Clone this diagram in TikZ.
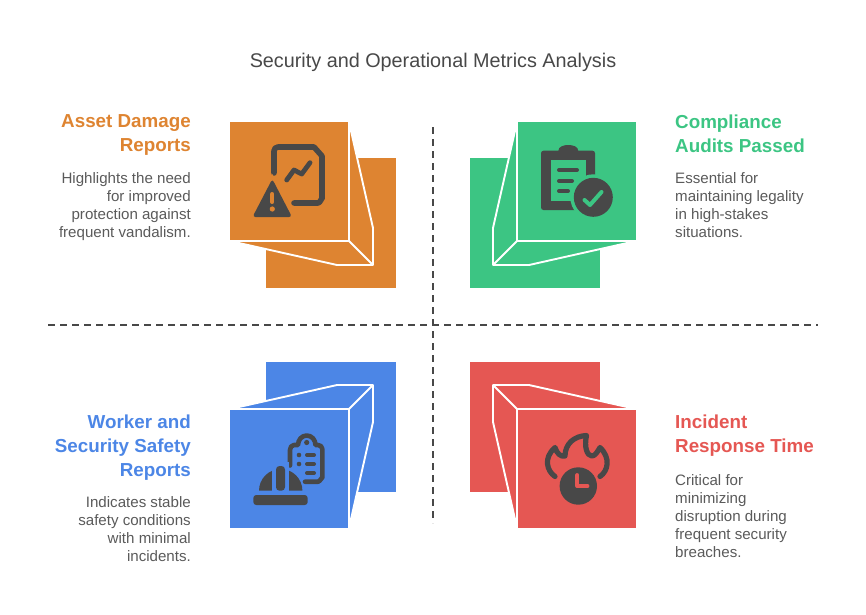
\documentclass[tikz,border=0pt]{standalone}
\usepackage{fontspec}
\setmainfont{Liberation Sans}
\definecolor{assetc}{HTML}{DE8431}
\definecolor{auditc}{HTML}{3CC583}
\definecolor{workerc}{HTML}{4C86E6}
\definecolor{incidentc}{HTML}{E55753}
\definecolor{iconc}{HTML}{484848}
\definecolor{bodyc}{HTML}{5A5A5A}
\tikzset{
    edgeline/.style={draw=white, line width=1.9pt, line join=round},
    axisline/.style={iconc, line width=1.9pt, dash pattern=on 6.5pt off 5.5pt},
    headtext/.style={inner sep=0pt, font=\fontsize{18.8}{24}\selectfont\bfseries},
    bodytext/.style={inner sep=0pt, bodyc, font=\fontsize{15.1}{18}\selectfont},
    iconline/.style={iconc, line width=5.6pt, line cap=round, line join=round}
}
\begin{document}
\begin{tikzpicture}[x=1pt,y=-1pt]
                \useasboundingbox (0,0) rectangle (866,614);

                \node[inner sep=0pt, iconc, font=\fontsize{19.8}{24}\selectfont] (title) at (433,62.2) {Security and Operational Metrics Analysis};

                %% axes
                \coordinate (vtop) at (433,127);
                \coordinate (vbot) at (433,523);
                \coordinate (hleft) at (48,325);
                \coordinate (hright) at (818,325);
                \draw[axisline] (vtop) -- (vbot);
                \draw[axisline] (hleft) -- (hright);

                %% Asset damage
                \fill[assetc] (266,158) rectangle (396,288);
                \fill[assetc] (230,122) rectangle (348,240);
                \filldraw[fill=assetc, edgeline] (349,122) -- (373,228) -- (373,265) -- (337,265) -- (230,241) -- (349,241) -- cycle;
                \draw[edgeline] (349,241) -- (373,265);
                % document
                \draw[iconline] (274,173) -- (274,151) to[out=90,in=180] (278,147) -- (314,147) -- (322,156) -- (322,199) to[out=90,in=0] (318,203) -- (294,203);
                \draw[iconc, line width=4.8pt, line cap=round, line join=round] (286.7,180) -- (294,170) -- (301.7,174) -- (310,162.7);
                % warning
                \fill[assetc] (272.3,174) -- (247,222) -- (298,222) -- cycle;
                \fill[iconc, rounded corners=3pt] (272.3,179) -- (252.5,217) -- (292,217) -- cycle;
                \draw[assetc, line width=4pt, line cap=round] (272.3,194) -- (272.3,202);
                \fill[assetc] (272.3,209) circle (2.6);

                \node[headtext, assetc, anchor=north east, align=right] (assethead) at (191,114.3) {Asset Damage\\Reports};
                \node[bodytext, anchor=north east, align=right] (assetbody) at (191,172) {Highlights the need\\for improved\\protection against\\frequent vandalism.};

                %% Compliance audits
                \fill[auditc] (470,158) rectangle (600,288);
                \fill[auditc] (518,122) rectangle (636,240);
                \filldraw[fill=auditc, edgeline] (517,122) -- (493,228) -- (493,265) -- (529,265) -- (636,241) -- (517,241) -- cycle;
                \draw[edgeline] (517,241) -- (493,265);
                % clipboard
                \fill[iconc, rounded corners=2.5pt] (541,150.7) rectangle (595,210);
                \fill[iconc] (558.3,151) to[out=90,in=180] (568.3,145) to[out=0,in=90] (578.3,151) -- cycle;
                \fill[auditc] (550.7,160) rectangle (586,201);
                \draw[iconc, line width=4pt, line cap=round] (559,170) -- (577,170);
                \draw[iconc, line width=4pt, line cap=round] (559,181) -- (572,181);
                \draw[iconc, line width=4pt, line cap=round] (559,191) -- (568,191);
                \fill[auditc] (593.3,197.3) circle (23);
                \fill[iconc] (593.3,197.3) circle (19.5);
                \draw[auditc, line width=4pt, line cap=round, line join=round] (584.5,200) -- (590,205) -- (601.5,192);

                \node[headtext, auditc, anchor=north west, align=left] (audithead) at (675,114.3) {Compliance\\Audits Passed};
                \node[bodytext, anchor=north west, align=left] (auditbody) at (675,172) {Essential for\\maintaining legality\\in high-stakes\\situations.};

                %% Worker safety
                \fill[workerc] (266,362) rectangle (396,492);
                \fill[workerc] (230,410) rectangle (348,528);
                \filldraw[fill=workerc, edgeline] (349,528) -- (373,422) -- (373,385) -- (337,385) -- (230,409) -- (349,409) -- cycle;
                \draw[edgeline] (349,409) -- (373,385);
                % clipboard and hat
                \draw[iconc, line width=4.6pt, line cap=round, line join=round] (290,465.5) -- (290,450) to[out=90,in=180] (294,445) -- (298,445) to[out=90,in=180] (306.7,435.5) to[out=0,in=90] (315.5,445) -- (318,445) to[out=0,in=90] (322.3,449) -- (322.3,478) to[out=90,in=0] (318,481.7) -- (305,481.7);
                \fill[iconc] (306.7,442.5) circle (2.6);
                \fill[iconc] (299,455) circle (2.3);
                \fill[iconc] (299,464) circle (2.3);
                \draw[iconc, line width=4pt, line cap=round] (307,455) -- (314,455);
                \draw[iconc, line width=4pt, line cap=round] (307,464) -- (314,464);
                \draw[iconc, line width=4pt, line cap=round] (307,473) -- (314,473);
                \fill[iconc] (259,490.7) arc[start angle=180, end angle=360, radius=21.7] -- cycle;
                \fill[workerc] (271.7,462) rectangle (289.3,491);
                \fill[iconc, rounded corners=3.5pt] (276,466) rectangle (285,490.7);
                \fill[iconc, rounded corners=3pt] (253.3,495) rectangle (307.7,505);

                \node[headtext, workerc, anchor=north east, align=right] (workerhead) at (191,414.3) {Worker and\\Security Safety\\Reports};
                \node[bodytext, anchor=north east, align=right] (workerbody) at (191,496) {Indicates stable\\safety conditions\\with minimal\\incidents.};

                %% Incident response
                \fill[incidentc] (470,362) rectangle (600,492);
                \fill[incidentc] (518,410) rectangle (636,528);
                \filldraw[fill=incidentc, edgeline] (517,528) -- (493,422) -- (493,385) -- (529,385) -- (636,409) -- (517,409) -- cycle;
                \draw[edgeline] (517,409) -- (493,385);
                % flame and clock
                \draw[iconc, line width=5.2pt, line cap=round, line join=round] (555,476.5) .. controls (547,471) and (543,458) .. (555,447.5) .. controls (557,454) and (561,457) .. (565,456) .. controls (565,444) and (574,436) .. (586.5,435.5) .. controls (584,447) and (587,456) .. (592,456) .. controls (595,456) and (598,451) .. (600,447.5) .. controls (611,458) and (608,471) .. (600,476.5);
                \fill[iconc] (578.3,486) circle (18.7);
                \draw[incidentc, line width=3.8pt, line cap=round, line join=round] (577.3,475) -- (577.3,486) -- (587.5,486);

                \node[headtext, incidentc, anchor=north west, align=left] (incidenthead) at (675,414.3) {Incident\\Response Time};
                \node[bodytext, anchor=north west, align=left] (incidentbody) at (675,474) {Critical for\\minimizing\\disruption during\\frequent security\\breaches.};

            \end{tikzpicture}
\end{document}
